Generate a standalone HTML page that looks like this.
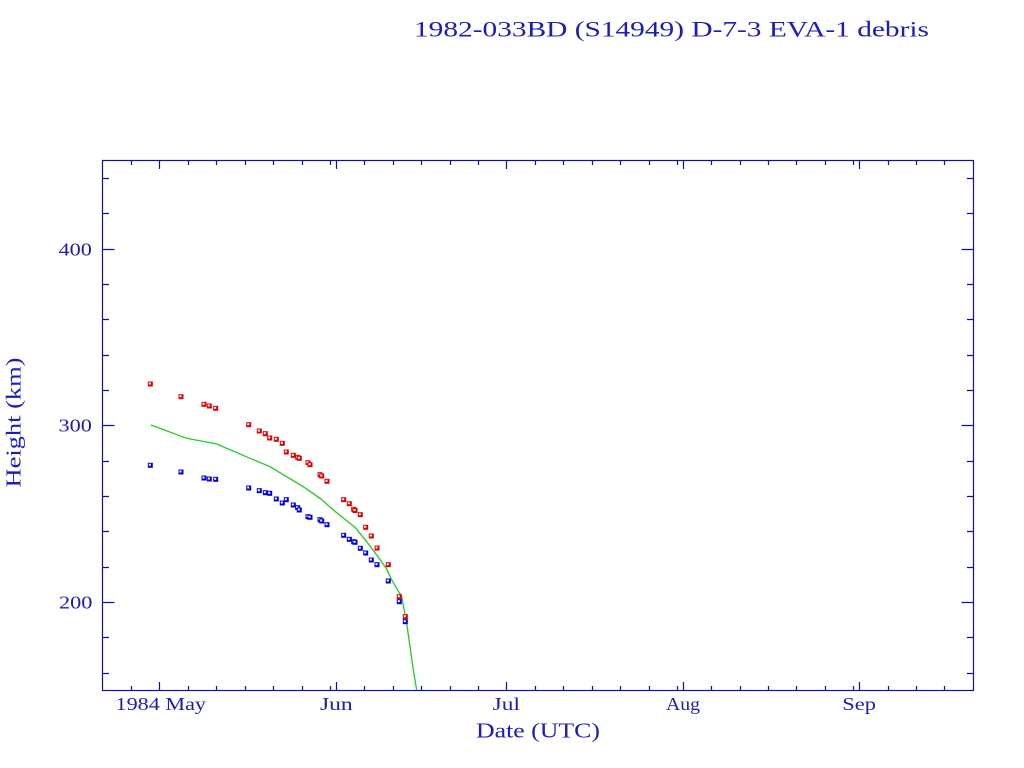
<!DOCTYPE html>
<html>
<head>
<meta charset="utf-8">
<style>
html,body{margin:0;padding:0;background:#fff;}
svg{display:block;}
text{font-family:"Liberation Serif",serif;fill:#1c1cb8;}
</style>
</head>
<body>
<svg width="1024" height="768" viewBox="0 0 1024 768" xmlns="http://www.w3.org/2000/svg">
<defs>
<g id="r"><rect x="-2.5" y="-2.5" width="5" height="5" fill="#e00000"/><rect x="-1.5" y="-1.5" width="2" height="2" fill="#fff"/></g>
<g id="b"><rect x="-2.5" y="-2.5" width="5" height="5" fill="#0000dd"/><rect x="-1.5" y="-1.5" width="2" height="2" fill="#fff"/></g>
</defs>
<rect width="1024" height="768" fill="#fff"/>

<!-- title -->
<text x="414" y="36.5" font-size="22" textLength="515" lengthAdjust="spacingAndGlyphs">1982-033BD (S14949) D-7-3 EVA-1 debris</text>

<!-- frame -->
<rect x="102.5" y="160.5" width="871" height="530" fill="none" stroke="#1010a8" stroke-width="1.2"/>

<g stroke="#1010a8" stroke-width="1.2" fill="none">
<!-- x major ticks bottom & top -->
<path d="M159.5 690.5V682 M336.5 690.5V682 M506.5 690.5V682 M683.5 690.5V682 M859.5 690.5V682
M159.5 160.5V169 M336.5 160.5V169 M506.5 160.5V169 M683.5 160.5V169 M859.5 160.5V169"/>
<!-- x minor ticks -->
<path d="M131.5 690.5V686 M188.5 690.5V686 M216.5 690.5V686 M245.5 690.5V686 M273.5 690.5V686 M302.5 690.5V686 M330.5 690.5V686 M364.5 690.5V686 M393.5 690.5V686 M421.5 690.5V686 M450.5 690.5V686 M478.5 690.5V686 M535.5 690.5V686 M563.5 690.5V686 M592.5 690.5V686 M620.5 690.5V686 M649.5 690.5V686 M677.5 690.5V686 M711.5 690.5V686 M740.5 690.5V686 M768.5 690.5V686 M796.5 690.5V686 M825.5 690.5V686 M853.5 690.5V686 M888.5 690.5V686 M916.5 690.5V686 M944.5 690.5V686
M131.5 160.5V165 M188.5 160.5V165 M216.5 160.5V165 M245.5 160.5V165 M273.5 160.5V165 M302.5 160.5V165 M330.5 160.5V165 M364.5 160.5V165 M393.5 160.5V165 M421.5 160.5V165 M450.5 160.5V165 M478.5 160.5V165 M535.5 160.5V165 M563.5 160.5V165 M592.5 160.5V165 M620.5 160.5V165 M649.5 160.5V165 M677.5 160.5V165 M711.5 160.5V165 M740.5 160.5V165 M768.5 160.5V165 M796.5 160.5V165 M825.5 160.5V165 M853.5 160.5V165 M888.5 160.5V165 M916.5 160.5V165 M944.5 160.5V165"/>
<!-- y major ticks -->
<path d="M102.5 602.5H114.5 M102.5 425.5H114.5 M102.5 249.5H114.5
M973.5 602.5H961.5 M973.5 425.5H961.5 M973.5 249.5H961.5"/>
<!-- y minor ticks -->
<path d="M102.5 673.5H109 M102.5 637.5H109 M102.5 567.5H109 M102.5 531.5H109 M102.5 496.5H109 M102.5 461.5H109 M102.5 390.5H109 M102.5 355.5H109 M102.5 319.5H109 M102.5 284.5H109 M102.5 213.5H109 M102.5 178.5H109
M973.5 673.5H967 M973.5 637.5H967 M973.5 567.5H967 M973.5 531.5H967 M973.5 496.5H967 M973.5 461.5H967 M973.5 390.5H967 M973.5 355.5H967 M973.5 319.5H967 M973.5 284.5H967 M973.5 213.5H967 M973.5 178.5H967"/>
</g>

<!-- y tick labels -->
<text x="58.5" y="255.5" font-size="18" textLength="33.4" lengthAdjust="spacingAndGlyphs">400</text>
<text x="58.5" y="431.5" font-size="18" textLength="33.4" lengthAdjust="spacingAndGlyphs">300</text>
<text x="59" y="608.3" font-size="18" textLength="33.4" lengthAdjust="spacingAndGlyphs">200</text>

<!-- x tick labels -->
<text x="115.5" y="710" font-size="18" textLength="90.5" lengthAdjust="spacingAndGlyphs">1984 May</text>
<text x="320" y="710" font-size="18" textLength="32.7" lengthAdjust="spacingAndGlyphs">Jun</text>
<text x="492.7" y="710" font-size="18" textLength="27.3" lengthAdjust="spacingAndGlyphs">Jul</text>
<text x="666" y="710" font-size="18" textLength="34" lengthAdjust="spacingAndGlyphs">Aug</text>
<text x="842.3" y="710" font-size="18" textLength="33.7" lengthAdjust="spacingAndGlyphs">Sep</text>

<!-- axis labels -->
<text x="476" y="737.5" font-size="21" textLength="124" lengthAdjust="spacingAndGlyphs">Date (UTC)</text>
<text transform="translate(20.5,422.5) rotate(-90)" x="0" y="0" font-size="21" text-anchor="middle" textLength="130" lengthAdjust="spacingAndGlyphs">Height (km)</text>

<!-- green line -->
<polyline fill="none" stroke="#22cc22" stroke-width="1.3" points="151,425 186.7,438.3 216.7,444 250,458.3 270,466.7 283.3,474.7 303.3,486.7 320,498.3 336.7,512.7 355,527.3 366.7,541.7 376.7,555 386.7,569 391.7,580 401.7,596.7 406.7,623.3 410,646.7 413.3,670 416.7,690"/>

<!-- red points -->
<use href="#r" x="150.3" y="384"/>
<use href="#r" x="181" y="396.7"/>
<use href="#r" x="204" y="404.3"/>
<use href="#r" x="209.3" y="406"/>
<use href="#r" x="215.7" y="408.3"/>
<use href="#r" x="248.7" y="424.7"/>
<use href="#r" x="259.3" y="431"/>
<use href="#r" x="265.3" y="433.7"/>
<use href="#r" x="269.7" y="438"/>
<use href="#r" x="276.3" y="439.3"/>
<use href="#r" x="282.3" y="443.3"/>
<use href="#r" x="286.3" y="452"/>
<use href="#r" x="293.3" y="455.3"/>
<use href="#r" x="297.7" y="457.3"/>
<use href="#r" x="299.3" y="458.3"/>
<use href="#r" x="308" y="462.7"/>
<use href="#r" x="310" y="464.7"/>
<use href="#r" x="320" y="474.7"/>
<use href="#r" x="321.7" y="476"/>
<use href="#r" x="327" y="481.3"/>
<use href="#r" x="343.7" y="499.7"/>
<use href="#r" x="349.3" y="503.7"/>
<use href="#r" x="353.7" y="509.3"/>
<use href="#r" x="355" y="510.5"/>
<use href="#r" x="360.3" y="514.7"/>
<use href="#r" x="365.7" y="527.3"/>
<use href="#r" x="371.3" y="536"/>
<use href="#r" x="377" y="548"/>
<use href="#r" x="388.3" y="564.7"/>
<use href="#r" x="399.3" y="596.7"/>
<use href="#r" x="405.3" y="616.7"/>

<!-- blue points -->
<use href="#b" x="150.3" y="465.3"/>
<use href="#b" x="181" y="472"/>
<use href="#b" x="204" y="478"/>
<use href="#b" x="209.3" y="479"/>
<use href="#b" x="215.7" y="479.3"/>
<use href="#b" x="248.7" y="488"/>
<use href="#b" x="259.3" y="490.7"/>
<use href="#b" x="265.3" y="492.7"/>
<use href="#b" x="269.7" y="493.3"/>
<use href="#b" x="276.3" y="499"/>
<use href="#b" x="282.3" y="503"/>
<use href="#b" x="286.3" y="499.7"/>
<use href="#b" x="293.3" y="505"/>
<use href="#b" x="297.7" y="507.7"/>
<use href="#b" x="299.3" y="510"/>
<use href="#b" x="308" y="516.7"/>
<use href="#b" x="310" y="517.3"/>
<use href="#b" x="320" y="519.7"/>
<use href="#b" x="321.7" y="521"/>
<use href="#b" x="327" y="524.7"/>
<use href="#b" x="343.7" y="535.3"/>
<use href="#b" x="349.3" y="539.3"/>
<use href="#b" x="353.7" y="541.7"/>
<use href="#b" x="355" y="542.3"/>
<use href="#b" x="360.3" y="548.3"/>
<use href="#b" x="365.7" y="553"/>
<use href="#b" x="371.3" y="560"/>
<use href="#b" x="377" y="564.7"/>
<use href="#b" x="388.3" y="581"/>
<use href="#b" x="399.3" y="601.7"/>
<use href="#b" x="405.3" y="621.7"/>
</svg>
</body>
</html>
